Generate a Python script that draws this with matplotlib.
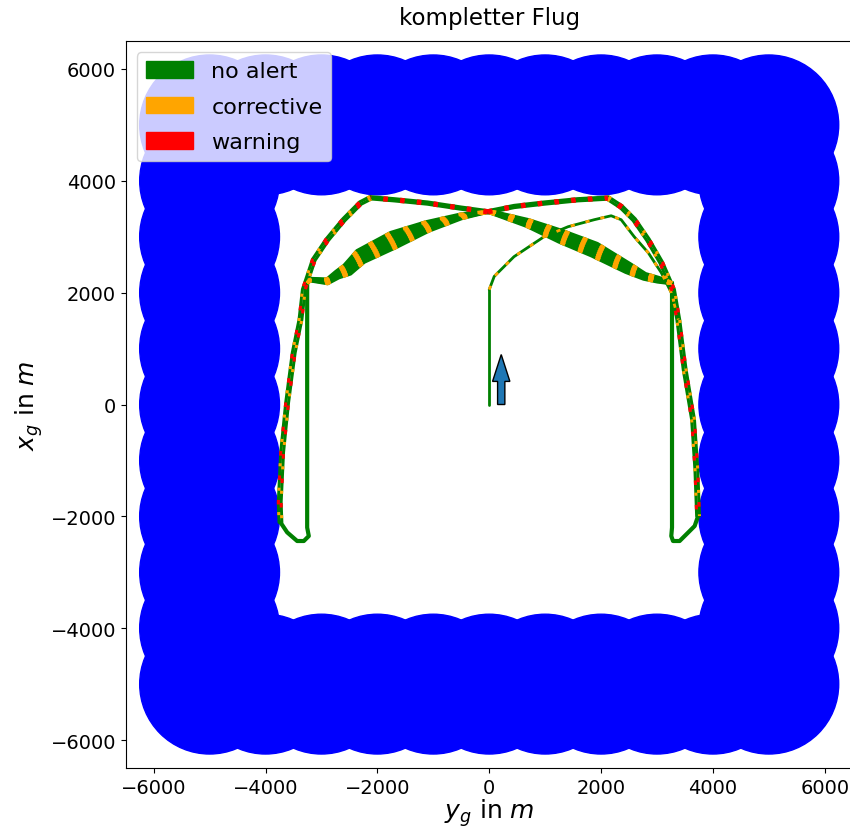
import numpy as np
import matplotlib
matplotlib.use("Agg")
import matplotlib.pyplot as plt
from matplotlib.patches import Circle, Patch

# obstacle ring (centres on the edge of the square), radius in m
ring_vals = [-5000, -4000, -3000, -2000, -1000, 0, 1000, 2000, 3000, 4000, 5000]
obstacle_radius = 1250

# flight path pieces, y_g (horizontal) / x_g (vertical) in m
start_leg_y = [0, 0]
start_leg_x = [0, 2054]

start_arc_y = [0, 90, 443, 980, 1410, 1876, 2181, 2360, 2593, 2844, 3077, 3256, 3381]
start_arc_x = [2054, 2291, 2643, 3000, 3179, 3304, 3375, 3304, 3000, 2714, 2357, 2000, 1518]

right_desc_y = [2122, 2360, 2593, 2839, 3077, 3287, 3381, 3495, 3645, 3704, 3735]
right_desc_x = [3691, 3536, 3304, 2946, 2536, 2054, 1518, 625, -268, -1161, -1995]

right_loop_y = [3735, 3674, 3556, 3405, 3287, 3256, 3269, 3269]
right_loop_x = [-1995, -2173, -2291, -2441, -2441, -2352, -2200, 2173]

right_bundle_y = [3269, 3197, 3018, 2778, 2480, 1882, 1285, 688, 90, -23]
right_bundle_x = [2173, 2190, 2232, 2291, 2441, 2768, 3005, 3245, 3423, 3446]
right_bundle_hw = [0, 20, 40, 50, 85, 120, 105, 60, 22, 5]

top_left_y = [-23, -507, -1104, -1703, -2120]
top_left_x = [3446, 3512, 3602, 3661, 3696]

left_desc_y = [-2120, -2303, -2599, -2896, -3136, -3315, -3375, -3495, -3613, -3703, -3746, -3733]
left_desc_x = [3696, 3602, 3304, 2946, 2589, 2054, 1518, 929, 36, -857, -1750, -2107]

left_loop_y = [-3733, -3613, -3434, -3315, -3226, -3255, -3255]
left_loop_x = [-2107, -2286, -2441, -2441, -2352, -2200, 2173]

left_bundle_y = [-3255, -3195, -2896, -2717, -2538, -2299, -1703, -1104, -507, -23]
left_bundle_x = [2173, 2232, 2202, 2321, 2411, 2648, 2946, 3184, 3363, 3446]
left_bundle_hw = [0, 20, 40, 60, 95, 120, 140, 85, 40, 5]

top_right_y = [-23, 448, 986, 1584, 2122]
top_right_x = [3446, 3541, 3602, 3661, 3691]

# heading arrow (start)
arrow_y, arrow_x, arrow_len = 215, 0, 893

bundle_fracs = (-1, -2 / 3, -1 / 3, 0, 1 / 3, 2 / 3, 1)


def passes(ys, xs, hw, fracs):
    ys = np.asarray(ys, float)
    xs = np.asarray(xs, float)
    hw = np.broadcast_to(np.asarray(hw, float), ys.shape)
    ty, tx = np.gradient(ys), np.gradient(xs)
    n = np.hypot(ty, tx)
    ny, nx = -tx / n, ty / n
    return [(ys + f * hw * ny, xs + f * hw * nx) for f in fracs]


def draw(ax, ys, xs, hw=0, fracs=(0,), lw=2.2, overlays=()):
    for py, px in passes(ys, xs, hw, fracs):
        ax.plot(py, px, color="green", lw=lw, solid_capstyle="round",
                solid_joinstyle="round", zorder=2)
        for col, ls in overlays:
            ax.plot(py, px, color=col, lw=lw, ls=ls, dash_capstyle="butt", zorder=3)


fig = plt.figure(figsize=(8.5, 8.28), dpi=100)
ax = fig.add_axes([125.7 / 850, 59 / 828, 727 / 850, 727 / 828])

for a in ring_vals:
    for b in ring_vals:
        if abs(a) == 5000 or abs(b) == 5000:
            ax.add_patch(Circle((a, b), obstacle_radius, color="blue", zorder=1))

orange_d = ("orange", (0, (1.5, 4)))
red_d = ("red", (0, (1.5, 4)))
mix_o = ("orange", (0, (1, 7)))
mix_r = ("red", (4, (1.5, 6.5)))

draw(ax, start_leg_y, start_leg_x, lw=2)
draw(ax, start_arc_y, start_arc_x, lw=2, overlays=[orange_d])
draw(ax, right_desc_y, right_desc_x, hw=25, fracs=(-1, 1), overlays=[mix_o, mix_r])
draw(ax, left_desc_y, left_desc_x, hw=25, fracs=(-1, 1), overlays=[mix_o, mix_r])
draw(ax, right_loop_y, right_loop_x, lw=3)
draw(ax, left_loop_y, left_loop_x, lw=3)
draw(ax, right_bundle_y, right_bundle_x, hw=right_bundle_hw, fracs=bundle_fracs,
     lw=2.5, overlays=[orange_d])
draw(ax, left_bundle_y, left_bundle_x, hw=left_bundle_hw, fracs=bundle_fracs,
     lw=2.5, overlays=[orange_d])
draw(ax, top_left_y, top_left_x, hw=20, fracs=(-1, 1), overlays=[red_d])
draw(ax, top_right_y, top_right_x, hw=20, fracs=(-1, 1), overlays=[red_d])

ax.arrow(arrow_y, arrow_x, 0, arrow_len, width=130, head_width=310, head_length=480,
         length_includes_head=True, fc="#1f77b4", ec="black", lw=1, zorder=5)

ax.set_xlim(-6500, 6500)
ax.set_ylim(-6500, 6500)
ax.set_aspect("equal")
ax.tick_params(labelsize=14)
ax.set_title("kompletter Flug", fontsize=16.5, pad=12)
ax.set_xlabel(r"$y_g$ in $m$", fontsize=18, labelpad=0)
ax.set_ylabel(r"$x_g$ in $m$", fontsize=18)

handles = [Patch(color="green", label="no alert"),
           Patch(color="orange", label="corrective"),
           Patch(color="red", label="warning")]
ax.legend(handles=handles, loc="upper left", fontsize=16, labelspacing=0.7,
          handlelength=2.15, handleheight=0.78)

fig.savefig("out.png", dpi=100)
